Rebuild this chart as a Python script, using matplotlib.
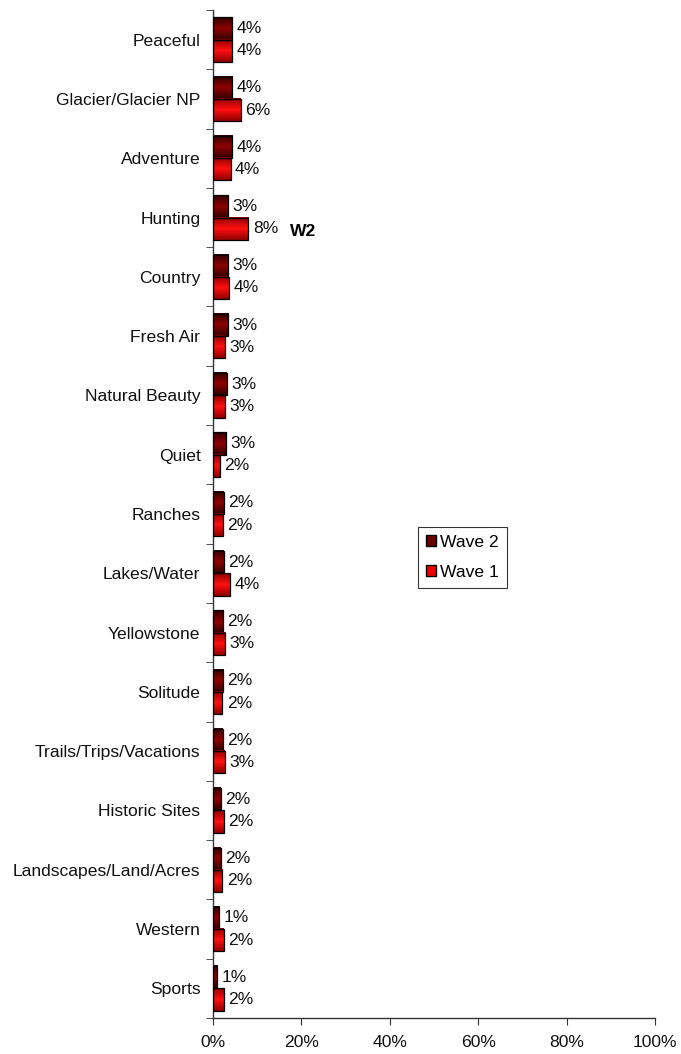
import matplotlib
matplotlib.use("Agg")
import matplotlib.pyplot as plt
import numpy as np
from matplotlib.colors import LinearSegmentedColormap
from matplotlib.patches import Patch

plt.rcParams['font.family'] = ['Liberation Sans', 'DejaVu Sans']

categories = ["Peaceful", "Glacier/Glacier NP", "Adventure", "Hunting", "Country",
              "Fresh Air", "Natural Beauty", "Quiet", "Ranches", "Lakes/Water",
              "Yellowstone", "Solitude", "Trails/Trips/Vacations", "Historic Sites",
              "Landscapes/Land/Acres", "Western", "Sports"]
wave2 = [4.4, 4.4, 4.3, 3.4, 3.4, 3.4, 3.1, 3.0, 2.4, 2.4, 2.3, 2.3, 2.2, 1.8, 1.8, 1.4, 1.0]
wave1 = [4.4, 6.3, 4.0, 8.0, 3.6, 2.7, 2.7, 1.6, 2.2, 3.8, 2.8, 2.1, 2.7, 2.4, 2.1, 2.4, 2.4]
xticks = [0, 20, 40, 60, 80, 100]
series_names = ["Wave 2", "Wave 1"]

FS = 12.6
W, H = 681, 1054
fig = plt.figure(figsize=(W / 100, H / 100), dpi=100)
ax = fig.add_axes([213 / W, 1 - 1018 / H, (655 - 213) / W, (1018 - 10) / H])

n = len(categories)

cmap2 = LinearSegmentedColormap.from_list("w2", ["#300000", "#900000", "#300000"])
cmap1 = LinearSegmentedColormap.from_list("w1", ["#900000", "#ff1010", "#900000"])
grad = np.linspace(0, 1, 64).reshape(-1, 1)

bh = 0.375
for i, (v2, v1) in enumerate(zip(wave2, wave1)):
    for val, off, cm in ((v2, 0.125, cmap2), (v1, 0.125 + bh, cmap1)):
        y0 = i + off
        ax.barh(y0 + bh / 2, val, height=bh, facecolor="none",
                edgecolor="black", linewidth=0.9, zorder=3)
        ax.imshow(grad, cmap=cm, extent=[0, val, y0 + bh, y0], aspect="auto",
                  interpolation="bilinear", zorder=2)
        ax.text(val + 1.0, y0 + bh / 2, f"{round(val)}%", va="center", ha="left",
                fontsize=FS, color="#111111")

ax.set_xlim(0, 100)
ax.set_ylim(n, 0)

ax.text(17.4, 3.74, "W2", fontsize=FS, fontweight="bold", va="center", ha="left")

ax.set_yticks(np.arange(n) + 0.5)
ax.set_yticklabels(categories, fontsize=FS, color="#111111")
ax.set_yticks(np.arange(n + 1), minor=True)
ax.tick_params(axis="y", which="major", length=0, pad=9)
ax.tick_params(axis="y", which="minor", length=5, direction="out", color="#333333")
ax.set_xticks(xticks)
ax.set_xticklabels([f"{t}%" for t in xticks], fontsize=FS, color="#111111")
ax.tick_params(axis="x", length=5, direction="out", pad=7, color="#333333")

for s in ("top", "right"):
    ax.spines[s].set_visible(False)
for s in ("left", "bottom"):
    ax.spines[s].set_color("#333333")
    ax.spines[s].set_linewidth(1.0)

handles = [Patch(facecolor="#6a0000", edgecolor="black", label=series_names[0]),
           Patch(facecolor="#ee0000", edgecolor="black", label=series_names[1])]
leg = ax.legend(handles=handles, loc="upper left",
                bbox_to_anchor=((418 - 213) / 442, 1 - (527 - 10) / 1008),
                fontsize=FS, frameon=True, fancybox=False, handlelength=0.6,
                handleheight=0.6, handletextpad=0.2, borderpad=0.45,
                labelspacing=0.85, borderaxespad=0)
leg.get_frame().set_edgecolor("black")
leg.get_frame().set_linewidth(0.8)

fig.savefig("out.png", dpi=100)
